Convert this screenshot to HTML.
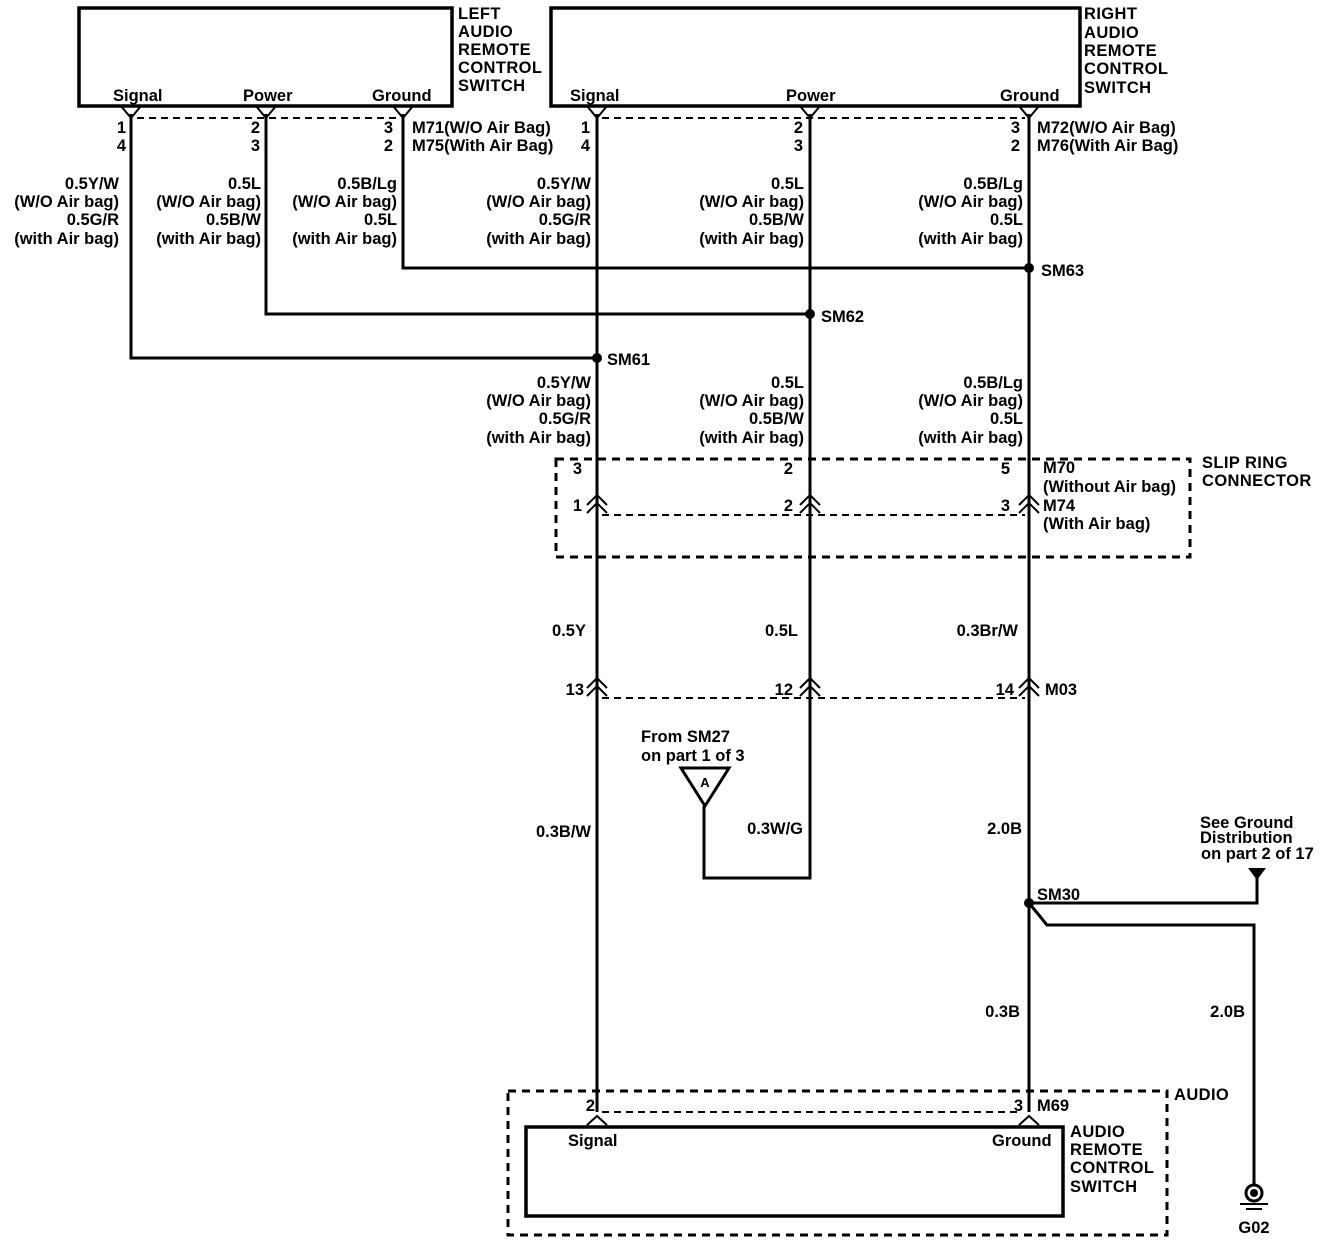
<!DOCTYPE html>
<html><head><meta charset="utf-8"><style>
html,body{margin:0;padding:0;background:#fff;}
svg{display:block;}
text{font-family:"Liberation Sans",Arial,sans-serif;font-size:16.5px;font-weight:bold;fill:#000;}
.t{font-size:17px;letter-spacing:0.4px;}
.r{text-anchor:end;}
.m{text-anchor:middle;}
</style></head><body>
<svg width="1344" height="1244" viewBox="0 0 1344 1244" xmlns="http://www.w3.org/2000/svg">
<g fill="none" stroke="#000">
<rect x="79" y="8" width="373" height="98" stroke-width="3.5"/>
<rect x="551" y="8" width="529" height="98" stroke-width="3.5"/>
<rect x="526" y="1127" width="537" height="89" stroke-width="3.5"/>
<g stroke-width="2" stroke-dasharray="7,5">
<line x1="137" y1="118" x2="400" y2="118"/>
<line x1="602" y1="118" x2="1025" y2="118"/>
<line x1="602" y1="515" x2="1025" y2="515"/>
<line x1="602" y1="698" x2="1025" y2="698"/>
<line x1="602" y1="1112" x2="1022" y2="1112"/>
</g>
<g stroke-width="3" stroke-dasharray="8,6">
<rect x="556" y="459" width="634" height="98"/>
<rect x="508" y="1091" width="659" height="144"/>
</g>
<g stroke-width="3">
<polyline points="131,114 131,358 597,358"/>
<polyline points="266,114 266,314 810,314"/>
<polyline points="403,114 403,268 1029,268"/>
<line x1="597" y1="114" x2="597" y2="1112"/>
<polyline points="810,114 810,878 704,878 704,806"/>
<line x1="1029" y1="114" x2="1029" y2="1112"/>
<polyline points="1029,903 1257,903 1257,876"/>
<polyline points="1029,903 1047,925 1254,925 1254,1185"/>
</g>
<g stroke-width="2">
<polyline points="121,106 131,118 141,106"/>
<polyline points="256,106 266,118 276,106"/>
<polyline points="393,106 403,118 413,106"/>
<polyline points="587,106 597,118 607,106"/>
<polyline points="800,106 810,118 820,106"/>
<polyline points="1019,106 1029,118 1039,106"/>
</g>
<g stroke-width="2">
<polyline points="587,505 597,495 607,505"/><polyline points="587,513 597,503 607,513"/>
<polyline points="800,505 810,495 820,505"/><polyline points="800,513 810,503 820,513"/>
<polyline points="1019,505 1029,495 1039,505"/><polyline points="1019,513 1029,503 1039,513"/>
<polyline points="587,688 597,678 607,688"/><polyline points="587,696 597,686 607,696"/>
<polyline points="800,688 810,678 820,688"/><polyline points="800,696 810,686 820,696"/>
<polyline points="1019,688 1029,678 1039,688"/><polyline points="1019,696 1029,686 1039,696"/>
<polyline points="587,1125 597,1116 607,1125"/>
<polyline points="1019,1125 1029,1116 1039,1125"/>
</g>
<polygon points="681,768 729,768 705,806" stroke-width="3"/>
<circle cx="1254" cy="1193" r="8" stroke-width="3"/>
<line x1="1240" y1="1204" x2="1268" y2="1204" stroke-width="2"/>
<line x1="1246" y1="1209" x2="1262" y2="1209" stroke-width="2"/>
</g>
<g fill="#000">
<circle cx="597" cy="358" r="5"/>
<circle cx="810" cy="314" r="5"/>
<circle cx="1029" cy="268" r="5"/>
<circle cx="1029" cy="903" r="5"/>
<circle cx="1254" cy="1193" r="4"/>
<polygon points="1248,868 1266,868 1257,880"/>
</g>
<g class="t">
<text x="458" y="19">LEFT</text><text x="458" y="37">AUDIO</text><text x="458" y="55">REMOTE</text><text x="458" y="73">CONTROL</text><text x="458" y="91">SWITCH</text>
<text x="1084" y="19">RIGHT</text><text x="1084" y="38">AUDIO</text><text x="1084" y="56">REMOTE</text><text x="1084" y="74">CONTROL</text><text x="1084" y="93">SWITCH</text>
<text x="1202" y="468">SLIP RING</text><text x="1202" y="486">CONNECTOR</text>
<text x="1174" y="1100">AUDIO</text>
<text x="1070" y="1137">AUDIO</text><text x="1070" y="1155">REMOTE</text><text x="1070" y="1173">CONTROL</text><text x="1070" y="1192">SWITCH</text>
</g>
<text x="113" y="101">Signal</text><text x="243" y="101">Power</text><text x="372" y="101">Ground</text>
<text x="570" y="101">Signal</text><text x="786" y="101">Power</text><text x="1000" y="101">Ground</text>
<text x="568" y="1146">Signal</text><text x="992" y="1146">Ground</text>
<g class="r">
<text x="126" y="133">1</text><text x="126" y="151">4</text>
<text x="260" y="133">2</text><text x="260" y="151">3</text>
<text x="393" y="133">3</text><text x="393" y="151">2</text>
<text x="590" y="133">1</text><text x="590" y="151">4</text>
<text x="803" y="133">2</text><text x="803" y="151">3</text>
<text x="1020" y="133">3</text><text x="1020" y="151">2</text>
<text x="582" y="474">3</text><text x="582" y="511">1</text>
<text x="793" y="474">2</text><text x="793" y="511">2</text>
<text x="1010" y="474">5</text><text x="1010" y="511">3</text>
<text x="584" y="695">13</text><text x="793" y="695">12</text><text x="1014" y="695">14</text>
<text x="595" y="1111">2</text><text x="1023" y="1111">3</text>
</g>
<text x="412" y="133">M71(W/O Air Bag)</text>
<text x="412" y="151">M75(With Air Bag)</text>
<text x="1037" y="133">M72(W/O Air Bag)</text>
<text x="1037" y="151">M76(With Air Bag)</text>
<text x="1041" y="276">SM63</text><text x="821" y="322">SM62</text><text x="607" y="365">SM61</text>
<text x="1043" y="473">M70</text><text x="1043" y="511">M74</text>
<text x="1045" y="695">M03</text><text x="1037" y="1111">M69</text>
<text x="1037" y="900">SM30</text><text x="1254" y="1233" class="m">G02</text>
<text x="705" y="787" class="m" style="font-size:13px">A</text>
<text x="1043" y="492">(Without Air bag)</text>
<text x="1043" y="529">(With Air bag)</text>
<g class="r">
<text x="119" y="189">0.5Y/W</text><text x="119" y="207">(W/O Air bag)</text><text x="119" y="225">0.5G/R</text><text x="119" y="244">(with Air bag)</text>
<text x="261" y="189">0.5L</text><text x="261" y="207">(W/O Air bag)</text><text x="261" y="225">0.5B/W</text><text x="261" y="244">(with Air bag)</text>
<text x="397" y="189">0.5B/Lg</text><text x="397" y="207">(W/O Air bag)</text><text x="397" y="225">0.5L</text><text x="397" y="244">(with Air bag)</text>
<text x="591" y="189">0.5Y/W</text><text x="591" y="207">(W/O Air bag)</text><text x="591" y="225">0.5G/R</text><text x="591" y="244">(with Air bag)</text>
<text x="804" y="189">0.5L</text><text x="804" y="207">(W/O Air bag)</text><text x="804" y="225">0.5B/W</text><text x="804" y="244">(with Air bag)</text>
<text x="1023" y="189">0.5B/Lg</text><text x="1023" y="207">(W/O Air bag)</text><text x="1023" y="225">0.5L</text><text x="1023" y="244">(with Air bag)</text>
<text x="591" y="388">0.5Y/W</text><text x="591" y="406">(W/O Air bag)</text><text x="591" y="424">0.5G/R</text><text x="591" y="443">(with Air bag)</text>
<text x="804" y="388">0.5L</text><text x="804" y="406">(W/O Air bag)</text><text x="804" y="424">0.5B/W</text><text x="804" y="443">(with Air bag)</text>
<text x="1023" y="388">0.5B/Lg</text><text x="1023" y="406">(W/O Air bag)</text><text x="1023" y="424">0.5L</text><text x="1023" y="443">(with Air bag)</text>
<text x="586" y="636">0.5Y</text><text x="798" y="636">0.5L</text><text x="1018" y="636">0.3Br/W</text>
<text x="591" y="837">0.3B/W</text><text x="803" y="834">0.3W/G</text><text x="1022" y="834">2.0B</text>
<text x="1020" y="1017">0.3B</text><text x="1245" y="1017">2.0B</text>
</g>
<text x="641" y="742">From  SM27</text><text x="641" y="761">on part 1 of 3</text>
<text x="1200" y="828">See Ground</text><text x="1200" y="843">Distribution</text><text x="1201" y="859">on part 2 of 17</text>
</svg>
</body></html>
